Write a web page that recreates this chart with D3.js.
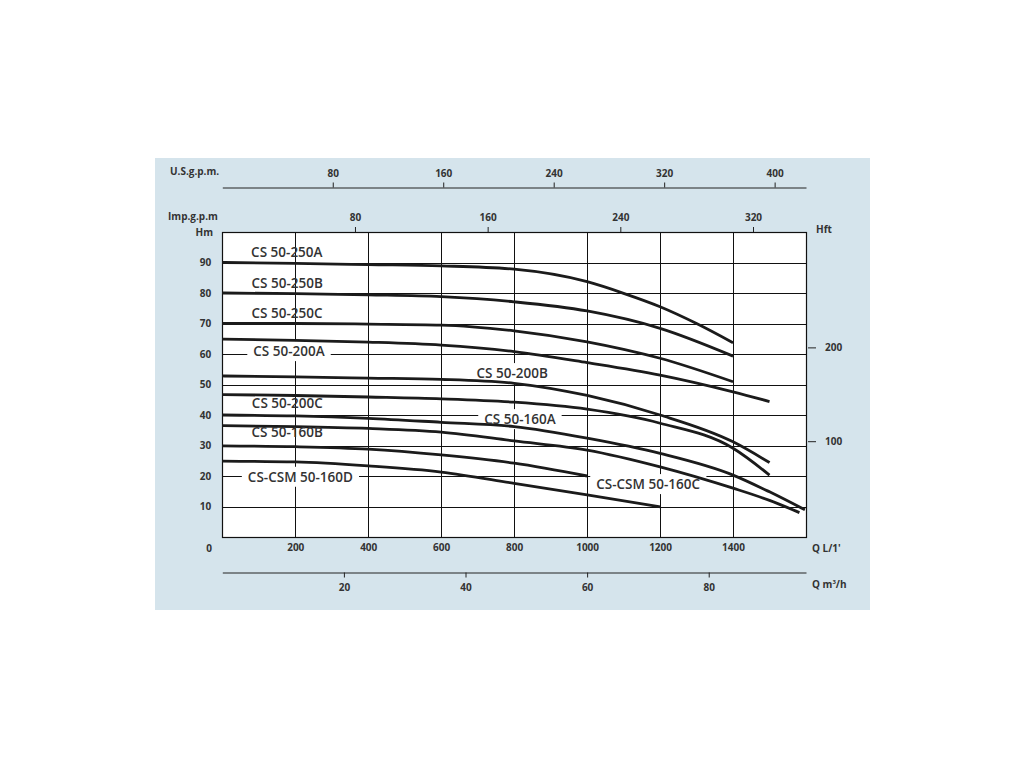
<!DOCTYPE html>
<html>
<head>
<meta charset="utf-8">
<script src="https://cdn.jsdelivr.net/npm/d3@7"></script>
<style>
  html, body { margin: 0; padding: 0; background: #ffffff; }
  svg { display: block; }
  text { font-family: "Open Sans", "DejaVu Sans", sans-serif; fill: #333; }
</style>
</head>
<body>
<svg id="chart" width="1024" height="768"></svg>
<script>
// ---------------- DATA ----------------
const seriesNames = ["CS 50-250A", "CS 50-250B", "CS 50-250C", "CS 50-200A", "CS 50-200B",
                     "CS 50-200C", "CS 50-160A", "CS 50-160B", "CS-CSM 50-160C", "CS-CSM 50-160D"];
// Each curve: [Q L/min, H m] pairs
const curve250A = [[0,90],[200,89.7],[400,89.3],[600,88.9],[800,87.8],[1000,83.7],[1100,79.9],[1200,75.5],[1300,70],[1400,63.7]];
const curve250B = [[0,80],[200,79.8],[400,79.4],[600,78.8],[800,77.1],[1000,74.1],[1200,68.4],[1400,59.3]];
const curve250C = [[0,70],[200,70],[400,69.8],[600,69.5],[800,67.6],[1000,64],[1200,58.6],[1400,50.9]];
const curve200A = [[0,64.9],[200,64.5],[400,63.9],[600,62.9],[800,60.8],[1000,57.2],[1200,53.1],[1400,47.6],[1500,44.4]];
const curve200B = [[0,52.8],[200,52.5],[400,52.1],[600,51.7],[800,50.4],[1000,46.4],[1200,40],[1400,31.2],[1500,24.4]];
const curve200C = [[0,46.7],[200,46.4],[400,45.9],[600,45.3],[800,44.2],[1000,41.9],[1200,37.3],[1400,29.1],[1500,20.3]];
const curve160A = [[0,40],[200,39.7],[400,38.9],[600,37.6],[800,36.2],[1000,32.4],[1200,27.4],[1400,20.3],[1500,14.8],[1597,8.9]];
const curve160B = [[0,36.5],[200,36.2],[400,35.6],[600,34.4],[800,31.5],[1000,28.5],[1200,23],[1400,16],[1500,12],[1582,8]];
const curve160C = [[0,29.9],[200,29.6],[400,28.8],[600,26.9],[800,24.2],[1000,20]];
const curve160D = [[0,24.9],[200,24.6],[400,23.3],[600,21.3],[800,17.6],[1000,13.8],[1200,9.9]];
const curves = [curve250A, curve250B, curve250C, curve200A, curve200B, curve200C, curve160A, curve160B, curve160C, curve160D];
// label anchor positions in data units [Q, H] (left edge, vertical centre) and whether a white box sits behind
const labelAnchors = [[79,93.3],[80,83.1],[80,73.4],[85,60.9],[697,53.7],[81,43.8],[718,38.6],[80,34.3],[1025,17.3],[70,19.7]];
const labelBoxed  = [false,false,false,true,true,false,true,false,true,true];

const qTicks   = [200, 400, 600, 800, 1000, 1200, 1400];
const hTicks   = [10, 20, 30, 40, 50, 60, 70, 80, 90];
const usTicks  = [80, 160, 240, 320, 400];
const impTicks = [80, 160, 240, 320];
const m3Ticks  = [20, 40, 60, 80];
const ftTicks  = [100, 200];
const gridQ    = [200, 400, 600, 800, 1000, 1200, 1400];
const gridH    = [10, 20, 30, 40, 50, 60, 70, 80, 90];

// ---------------- SCALES ----------------
const L = 222.3, R = 806, T = 232, B = 537;
const x   = d3.scaleLinear().domain([0, 1600]).range([L, R]);
const y   = d3.scaleLinear().domain([0, 100]).range([B, T]);
const xUS = d3.scaleLinear().domain([0, 1600 / 3.785]).range([L, R]);
const xImp= d3.scaleLinear().domain([0, 1600 / 4.546]).range([L, R]);
const xM3 = d3.scaleLinear().domain([0, 1600 * 60 / 1000]).range([L, R]);
const yFt = d3.scaleLinear().domain([0, 323]).range([535, 232]);
const px = v => Math.round(v) + 0.5;
const fmt = d3.format("d");

const svg = d3.select("#chart");

// panel background
svg.append("rect").attr("x", 155).attr("y", 158).attr("width", 715).attr("height", 452).attr("fill", "#d5e4ec");
// plot area
svg.append("rect").attr("x", L).attr("y", T).attr("width", R - L).attr("height", B - T).attr("fill", "#ffffff");

// grid
const grid = svg.append("g").attr("stroke", "#111").attr("stroke-width", 1);
grid.selectAll("line.v").data(gridQ).join("line").attr("class", "v")
  .attr("x1", d => px(x(d))).attr("x2", d => px(x(d))).attr("y1", T).attr("y2", B);
grid.selectAll("line.h").data(gridH).join("line").attr("class", "h")
  .attr("x1", L).attr("x2", R).attr("y1", d => px(y(d))).attr("y2", d => px(y(d)));
svg.append("rect").attr("x", px(L)).attr("y", px(T)).attr("width", Math.round(R - L)).attr("height", Math.round(B - T))
  .attr("fill", "none").attr("stroke", "#111").attr("stroke-width", 1.2);

// label boxes layer (drawn before curves)
const boxLayer = svg.append("g");
const curveLayer = svg.append("g");
const labelLayer = svg.append("g");

const line = d3.line().x(d => x(d[0])).y(d => y(d[1])).curve(d3.curveMonotoneX);
curveLayer.selectAll("path").data(curves).join("path")
  .attr("d", line).attr("fill", "none").attr("stroke", "#1b1b1b").attr("stroke-width", 2.8)
  .attr("stroke-linecap", "butt");

const labels = labelLayer.selectAll("text").data(seriesNames).join("text")
  .attr("x", (d, i) => x(labelAnchors[i][0]))
  .attr("y", (d, i) => y(labelAnchors[i][1]))
  .attr("dy", "0.36em")
  .attr("font-size", 13.5).attr("font-weight", 600)
  .text(d => d);
labels.each(function (d, i) {
  if (!labelBoxed[i]) return;
  const b = this.getBBox();
  boxLayer.append("rect").attr("x", b.x - 6).attr("y", b.y - 1).attr("width", b.width + 12).attr("height", b.height + 2)
    .attr("fill", "#ffffff");
});

// ---------------- AXES ----------------
function styleAxis(g, fs) {
  g.selectAll("text").attr("font-size", fs).attr("font-weight", 700).attr("fill", "#333")
    .attr("font-family", '"Open Sans", "DejaVu Sans", sans-serif');
  g.selectAll("line").attr("stroke", "#222");
  g.selectAll("path.domain").attr("stroke", "#222");
}
// U.S. gpm (top)
const gUS = svg.append("g").attr("transform", "translate(0,187.5)")
  .call(d3.axisTop(xUS).tickValues(usTicks).tickFormat(fmt).tickSize(5).tickSizeOuter(0).tickPadding(6));
styleAxis(gUS, 10);
// Imp gpm (on top border)
const gImp = svg.append("g").attr("transform", `translate(0,${T})`)
  .call(d3.axisTop(xImp).tickValues(impTicks).tickFormat(fmt).tickSize(5).tickPadding(6));
gImp.select("path.domain").remove();
styleAxis(gImp, 10);
// Q L/min (bottom labels)
const gQ = svg.append("g").attr("transform", `translate(0,${B})`)
  .call(d3.axisBottom(x).tickValues(qTicks).tickFormat(fmt).tickSize(0).tickPadding(7));
gQ.select("path.domain").remove();
styleAxis(gQ, 10);
// H m (left)
const gH = svg.append("g").attr("transform", `translate(${L},0)`)
  .call(d3.axisLeft(y).tickValues(hTicks).tickFormat(fmt).tickSize(0).tickPadding(11));
gH.select("path.domain").remove();
styleAxis(gH, 10);
// m3/h (bottom axis line)
const gM3 = svg.append("g").attr("transform", "translate(0,572.5)")
  .call(d3.axisBottom(xM3).tickValues(m3Ticks).tickFormat(fmt).tickSize(5).tickSizeOuter(0).tickPadding(6));
styleAxis(gM3, 10);
// H ft (right)
const gFt = svg.append("g").attr("transform", "translate(808,0)")
  .call(d3.axisRight(yFt).tickValues(ftTicks).tickFormat(fmt).tickSize(8).tickPadding(9));
gFt.select("path.domain").remove();
styleAxis(gFt, 10);

// axis titles
const titles = svg.append("g");
function title(xp, yp, txt, anchor) {
  return titles.append("text").attr("x", xp).attr("y", yp).attr("text-anchor", anchor || "start")
    .attr("font-size", 10).attr("font-weight", 700).text(txt);
}
title(170, 175, "U.S.g.p.m.");
title(168, 220, "Imp.g.p.m");
title(213, 236, "Hm", "end");
title(816, 233, "Hft");
title(212, 551.5, "0", "end");
title(812, 552, "Q L/1'");
const m3t = titles.append("text").attr("x", 812).attr("y", 588).attr("font-size", 10).attr("font-weight", 700);
m3t.append("tspan").text("Q m");
m3t.append("tspan").attr("font-size", 6).attr("dy", -4).text("3");
m3t.append("tspan").attr("dy", 4).text("/h");
</script>
</body>
</html>
